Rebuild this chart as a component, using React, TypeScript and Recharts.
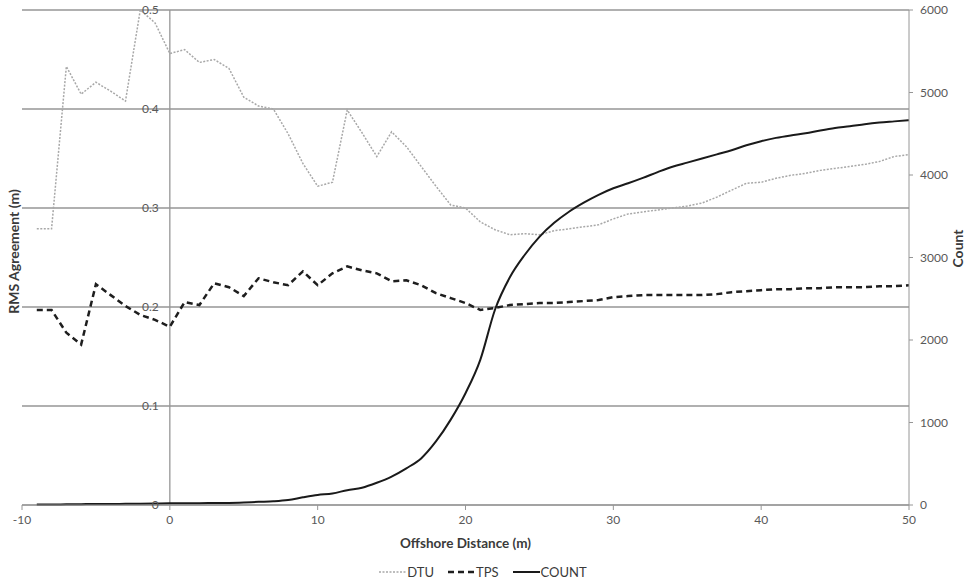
import { LineChart, Line, XAxis, YAxis, CartesianGrid, ReferenceLine, Legend } from 'recharts';

const distance = [
  -9, -8, -7, -6, -5, -4, -3, -2, -1, 0, 1, 2, 3, 4, 5, 6, 7, 8, 9, 10,
  11, 12, 13, 14, 15, 16, 17, 18, 19, 20, 21, 22, 23, 24, 25, 26, 27, 28, 29, 30,
  31, 32, 33, 34, 35, 36, 37, 38, 39, 40, 41, 42, 43, 44, 45, 46, 47, 48, 49, 50,
];

const dtu = [
  0.279, 0.279, 0.443, 0.415, 0.427, 0.418, 0.408, 0.5, 0.487, 0.456,
  0.46, 0.447, 0.45, 0.441, 0.412, 0.403, 0.4, 0.375, 0.345, 0.322,
  0.326, 0.399, 0.376, 0.352, 0.377, 0.362, 0.342, 0.322, 0.303, 0.3,
  0.286, 0.278, 0.273, 0.274, 0.273, 0.277, 0.279, 0.281, 0.283, 0.289,
  0.294, 0.296, 0.298, 0.3, 0.302, 0.305, 0.311, 0.318, 0.325, 0.326,
  0.33, 0.333, 0.335, 0.338, 0.34, 0.342, 0.344, 0.347, 0.352, 0.354,
];

const tps = [
  0.197, 0.197, 0.174, 0.162, 0.223, 0.212, 0.201, 0.192, 0.187, 0.18,
  0.205, 0.202, 0.224, 0.22, 0.211, 0.229, 0.225, 0.222, 0.236, 0.222,
  0.234, 0.241, 0.237, 0.234, 0.226, 0.227, 0.222, 0.214, 0.209, 0.204,
  0.197, 0.199, 0.202, 0.203, 0.204, 0.204, 0.205, 0.206, 0.207, 0.21,
  0.211, 0.212, 0.212, 0.212, 0.212, 0.212, 0.213, 0.215, 0.216, 0.217,
  0.218, 0.218, 0.219, 0.219, 0.22, 0.22, 0.22, 0.221, 0.221, 0.222,
];

const count = [
  5, 5, 8, 10, 12, 12, 14, 15, 17, 20,
  22, 22, 24, 25, 30, 38, 45, 60, 93, 122,
  140, 180, 210, 270, 345, 445, 565, 770, 1035, 1355,
  1760, 2370, 2760, 3030, 3250, 3420, 3555, 3665, 3760, 3840,
  3900, 3965, 4035, 4100, 4150, 4200, 4250, 4300, 4360, 4410,
  4450, 4480, 4505, 4540, 4570, 4590, 4615, 4635, 4650, 4665,
];

const xTicks = [-10, 0, 10, 20, 30, 40, 50];
const rmsTicks = [0, 0.1, 0.2, 0.3, 0.4, 0.5];
const countTicks = [0, 1000, 2000, 3000, 4000, 5000, 6000];

const data = distance.map((d, i) => ({ distance: d, DTU: dtu[i], TPS: tps[i], COUNT: count[i] }));

const W = 966;
const H = 586;
const LEFT_W = 22;
const RIGHT_W = 57;
const FONT = 'Lato, "Open Sans", sans-serif';
const AXIS_GRAY = '#969696';
const TEXT = '#595959';
const TITLE = '#3a3a3a';

// left axis labels sit beside the x=0 crossing, Excel style
const plotW = W - LEFT_W - RIGHT_W;
const zeroX = LEFT_W + (plotW * (0 - xTicks[0])) / (xTicks[xTicks.length - 1] - xTicks[0]);

const styles: Record<string, { stroke: string; dash?: string; width: number }> = {
  DTU: { stroke: '#a8a8a8', dash: '2 1.5', width: 1.5 },
  TPS: { stroke: '#1e1e1e', dash: '6 4', width: 2.5 },
  COUNT: { stroke: '#1a1a1a', width: 2 },
};

function LeftTick(props: any) {
  const { y, payload } = props;
  return (
    <text x={zeroX - 11} y={y} dy={4} textAnchor="end" fontSize={12} fill={TEXT} fontFamily={FONT}>
      {payload.value}
    </text>
  );
}

function LegendContent() {
  const keys = ['DTU', 'TPS', 'COUNT'];
  return (
    <div style={{ display: 'flex', justifyContent: 'center', gap: 14, paddingTop: 9, fontFamily: FONT, fontSize: 13, color: TITLE }}>
      {keys.map((k) => (
        <span key={k} style={{ display: 'flex', alignItems: 'center' }}>
          <svg width={27} height={10}>
            <line x1={0} y1={5} x2={27} y2={5} stroke={styles[k].stroke} strokeWidth={styles[k].width} strokeDasharray={styles[k].dash} />
          </svg>
          <span style={{ marginLeft: 1 }}>{k}</span>
        </span>
      ))}
    </div>
  );
}

export default function App() {
  return (
    <div style={{ position: 'absolute', left: 0, top: 0, background: '#fff' }}>
      <LineChart width={W} height={H} data={data} margin={{ top: 10, right: 0, bottom: 0, left: 0 }}>
        <CartesianGrid yAxisId="left" vertical={false} stroke={AXIS_GRAY} strokeWidth={1.3} />
        <XAxis
          dataKey="distance"
          type="number"
          domain={[-10, 50]}
          ticks={xTicks}
          height={50}
          stroke={AXIS_GRAY}
          tickSize={5}
          tickMargin={5}
          tick={{ fontSize: 12, fill: TEXT, fontFamily: FONT }}
          label={{ value: 'Offshore Distance (m)', position: 'insideBottom', offset: 7, fontSize: 13.5, fontWeight: 700, fill: TITLE, fontFamily: FONT }}
        />
        <YAxis
          yAxisId="left"
          orientation="left"
          width={LEFT_W}
          domain={[0, 0.5]}
          ticks={rmsTicks}
          axisLine={false}
          tickLine={false}
          tick={<LeftTick />}
          label={{ value: 'RMS Agreement (m)', angle: -90, position: 'center', dx: 3, dy: -6, fontSize: 14, fontWeight: 700, fill: TITLE, fontFamily: FONT }}
        />
        <YAxis
          yAxisId="right"
          orientation="right"
          width={RIGHT_W}
          domain={[0, 6000]}
          ticks={countTicks}
          stroke={AXIS_GRAY}
          tickSize={4}
          tickMargin={7}
          tick={{ fontSize: 12, fill: TEXT, fontFamily: FONT, textAnchor: 'start' }}
          label={{ value: 'Count', angle: -90, position: 'center', dx: 21, dy: -9, fontSize: 14, fontWeight: 700, fill: TITLE, fontFamily: FONT }}
        />
        <ReferenceLine yAxisId="left" x={0} stroke={AXIS_GRAY} strokeWidth={1.3} />
        <Legend verticalAlign="bottom" height={31} content={<LegendContent />} />
        <Line yAxisId="left" type="linear" dataKey="DTU" stroke={styles.DTU.stroke} strokeWidth={styles.DTU.width} strokeDasharray={styles.DTU.dash} dot={false} isAnimationActive={false} />
        <Line yAxisId="left" type="linear" dataKey="TPS" stroke={styles.TPS.stroke} strokeWidth={styles.TPS.width} strokeDasharray={styles.TPS.dash} dot={false} isAnimationActive={false} />
        <Line yAxisId="right" type="monotone" dataKey="COUNT" stroke={styles.COUNT.stroke} strokeWidth={styles.COUNT.width} dot={false} isAnimationActive={false} />
      </LineChart>
    </div>
  );
}
